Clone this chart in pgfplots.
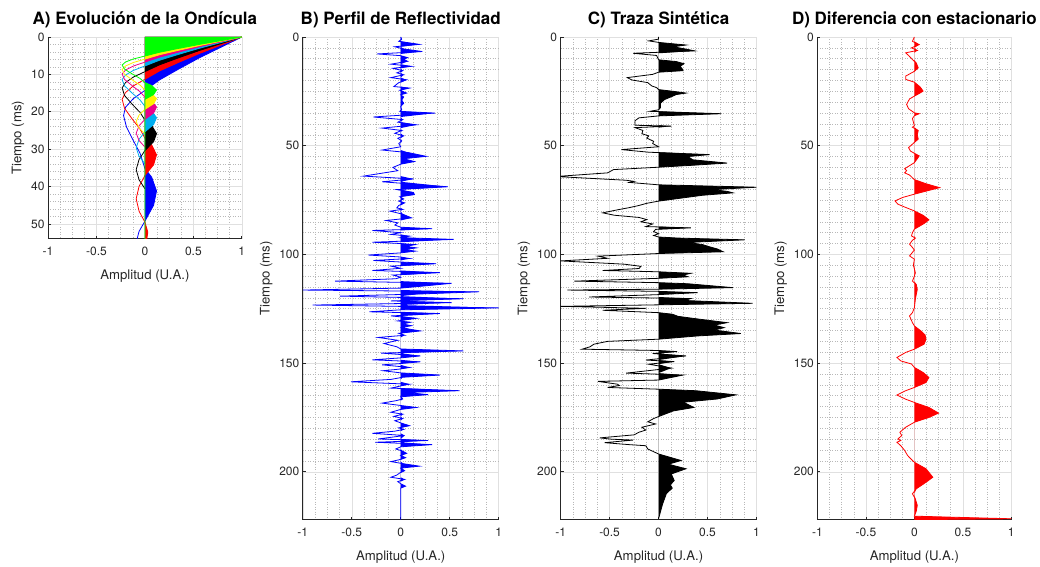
\documentclass[border=0pt]{standalone}
\usepackage{fontspec}
\setmainfont{TeX Gyre Heros}
\usepackage{pgfplots}
\usepackage{pgfplotstable}
\pgfplotsset{compat=1.18}
\definecolor{axgray}{RGB}{38,38,38}

\pgfplotstableread{
t a
0 0
1 0.01
2 -0.02
3.4 0.19
4.5 -0.06
5.5 0.03
6.7 0.22
7.8 -0.24
8.6 0.0
9.5 0.07
10.3 0.03
11.2 0.07
12.5 -0.10
13.5 0.11
14.4 -0.08
15.5 0.02
16.5 -0.04
17.4 0.03
18.7 -0.10
19.7 0.06
21.0 -0.02
22.8 -0.07
23.5 0.09
24.5 -0.01
25.8 0.06
26.6 0.0
27.6 0.03
29.0 0.01
30.5 0.03
32.0 0.0
33.5 0.01
34.2 -0.01
35.0 0.35
36.8 -0.28
38.0 0.02
39.2 -0.03
40.4 0.16
41.9 -0.19
43.0 0.01
44.3 -0.06
45.5 0.03
46.6 -0.03
47.8 0.01
49.0 -0.02
50.5 0.0
52.0 -0.19
53.2 0.08
54.9 0.26
56.0 0.03
57.3 0.14
58.5 0.0
60.0 -0.08
61.5 -0.03
64.0 -0.38
65.3 0.13
66.6 -0.19
68.9 0.48
70.2 -0.04
71.5 0.13
72.5 0.14
73.5 -0.01
74.5 0.03
75.5 -0.02
76.3 0.04
77.5 -0.02
78.6 -0.04
79.3 0.02
80.1 -0.11
81.5 0.02
83.2 0.11
84.4 -0.15
85.5 -0.03
86.5 -0.06
87.5 0.0
88.2 0.32
89.0 -0.29
90.0 0.0
90.8 -0.10
91.6 0.09
92.3 0.0
93.1 0.54
94.4 -0.29
95.0 0.0
95.5 0.15
96.3 0.05
97.0 0.16
97.8 0.04
98.5 0.15
99.3 0.0
100.3 -0.33
101.2 0.0
101.9 0.09
102.8 -0.28
103.5 0.0
104.3 0.36
105.4 -0.10
106.4 0.0
107.4 -0.29
108.4 0.40
109.5 -0.08
110.5 0.0
111.2 -0.05
112.3 -0.67
113.3 0.52
114.6 0.22
115.5 0.0
116.4 -1.0
117.2 0.80
118.2 0.20
119.2 -0.62
120.4 0.64
121.4 -0.10
122.2 0.52
123.3 -0.90
124.6 1.0
125.5 0.0
126.4 -0.32
127.2 0.40
128.3 -0.10
129.4 0.16
130.6 -0.03
131.2 0.10
132.0 0.02
132.8 0.11
133.6 0.01
134.4 0.09
135.2 0.20
136.3 -0.02
137.2 0.04
138.2 -0.23
139.5 -0.03
141.0 -0.17
142.5 -0.04
143.5 0.0
144.4 0.64
145.4 -0.20
146.7 0.20
147.6 0.0
148.5 -0.29
149.4 0.20
150.2 0.0
150.8 -0.19
152.0 0.09
152.8 -0.02
153.5 -0.18
154.5 0.0
155.5 0.40
156.5 0.02
157.5 -0.10
158.6 -0.51
159.7 0.09
160.5 0.0
161.5 -0.10
162.7 0.60
163.5 0.05
164.5 0.28
165.5 0.0
166.5 0.02
167.3 -0.05
168.4 -0.19
169.5 0.0
170.4 0.16
171.3 0.0
172.6 -0.10
173.5 0.02
174.5 -0.07
175.5 0.02
176.5 -0.06
177.5 0.0
178.8 0.09
179.8 -0.02
180.5 0.03
181.3 -0.06
182.3 -0.29
183.3 0.04
184.9 -0.23
185.6 0.28
186.4 -0.26
187.5 0.32
188.5 0.0
189.5 -0.05
190.5 0.02
191.5 0.06
192.5 0.0
193.5 0.05
194.5 -0.02
195.3 -0.10
196.3 0.03
197.4 0.19
198.3 0.0
199.5 0.04
200.5 -0.01
201.5 -0.04
202.5 -0.10
203.5 0.04
204.5 -0.03
205.5 0.0
206.6 0.05
207.5 0.0
222 0
}\dataB

\pgfplotstableread{
t a
0 0
1.0 0.0
1.8 -0.10
2.5 0.0
3.7 0.28
4.5 0.15
5.5 0.27
6.4 0.37
7.5 -0.26
8.5 -0.02
10.5 0.0
11.3 0.18
12.3 0.26
13.5 0.22
14.5 0.24
15.5 0.25
16.2 0.0
17.2 -0.06
18.7 -0.32
19.8 -0.27
21.0 -0.11
22.5 -0.07
23.3 -0.02
24.2 0.0
25.0 0.15
25.8 0.28
26.5 0.18
27.5 0.13
28.8 0.06
30.5 0.02
32.5 0.02
33.5 0.0
34.2 -0.09
35.3 0.64
36.3 0.0
37.2 -0.20
38.5 -0.24
40.6 -0.24
41.0 0.13
41.7 -0.24
43.0 -0.16
44.5 -0.17
45.5 -0.10
46.5 -0.12
48.0 -0.05
49.0 -0.06
50.5 0.0
51.8 -0.38
53.0 -0.10
54.1 0.52
55.0 0.30
56.5 0.35
58.0 0.70
59.0 0.35
59.9 0.0
61.0 -0.46
62.5 -0.52
64.0 -0.99
64.3 -1.0
65.9 -0.33
66.4 -0.25
66.9 -0.30
68.0 0.0
69.1 1.0
70.2 0.55
71.0 0.70
71.7 0.76
72.8 0.45
74.0 0.25
75.5 0.0
76.5 -0.12
77.5 -0.20
78.5 -0.30
79.5 -0.42
80.9 -0.57
82.0 -0.45
83.0 -0.20
84.0 -0.12
85.0 -0.18
86.0 -0.06
87.2 -0.13
87.8 0.33
88.5 -0.03
89.5 -0.05
90.5 0.0
91.3 -0.05
92.0 0.0
92.5 0.20
93.3 0.88
94.5 0.30
95.5 0.45
96.5 0.52
97.5 0.60
98.8 0.66
99.6 0.0
100.8 -0.62
101.8 -0.52
103.0 -1.0
104.5 -0.35
105.5 -0.18
106.5 -0.20
107.4 -0.57
108.0 0.0
108.7 0.33
109.5 0.25
110.3 0.30
111.0 0.0
112.3 -0.86
113.0 0.0
113.5 0.30
115.3 0.76
116.0 0.0
116.4 -0.93
117.0 0.0
117.6 0.40
118.5 0.0
119.6 -0.71
120.3 0.33
121.2 0.27
122.5 0.96
123.2 0.0
123.9 -1.0
124.8 -0.13
125.7 -0.57
126.8 0.0
127.5 0.14
128.5 0.20
129.7 0.40
131.4 0.70
132.5 0.57
133.7 0.67
134.8 0.57
136.4 0.84
137.5 0.40
139.0 0.0
140.0 -0.52
141.3 -0.66
142.5 -0.70
143.6 -0.78
144.2 0.0
144.7 0.19
145.6 -0.06
146.7 0.28
148.6 -0.13
149.3 0.16
150.5 -0.10
152.3 0.13
154.6 -0.33
155.5 0.25
157.8 0.0
158.4 -0.62
159.7 -0.42
160.3 -0.40
161.2 -0.52
162.0 0.0
162.7 0.38
164.6 0.79
166.5 0.60
168.0 0.25
169.0 0.30
170.4 0.36
172.0 0.15
174.6 0.0
175.5 -0.05
177.0 -0.11
178.0 -0.03
179.5 -0.17
180.8 -0.13
181.8 -0.20
183.0 -0.25
184.4 -0.60
185.0 -0.48
185.4 -0.26
186.6 -0.55
187.5 -0.30
188.0 -0.13
189.5 -0.11
191.8 0.0
194.8 0.23
196.5 0.10
198.6 0.28
201.0 0.13
204.0 0.16
206.0 0.12
207.5 0.14
210.0 0.08
215.0 0.04
221.6 0.0
}\dataC

\pgfplotstableread{
t a
0 0
2 -0.02
3.5 0.05
5.0 -0.03
6.2 0.03
7.3 -0.09
8.5 -0.06
10.4 -0.02
12.0 0.02
14.2 0.04
15.8 0.0
18.0 -0.09
19.5 -0.09
20.8 0.0
23.0 0.06
24.9 0.09
26.0 0.05
27.2 0.0
28.5 -0.05
31.0 -0.08
33.0 -0.06
34.9 0.0
35.3 0.05
36.2 0.0
37.5 -0.02
40.8 0.0
41.5 -0.02
43.0 0.04
45.0 0.03
47.0 0.04
48.5 0.0
50.9 -0.06
52.5 -0.04
53.5 0.0
54.7 0.05
56.0 0.03
57.8 0.0
60.6 -0.10
61.5 -0.08
62.5 -0.10
63.5 -0.05
65.6 0.0
67.5 0.12
69.3 0.26
70.8 0.13
72.3 0.0
73.8 -0.12
75.4 -0.20
76.9 -0.17
78.4 -0.09
80.0 0.0
82.0 0.09
84.1 0.15
85.8 0.10
88.4 0.0
90.0 -0.02
91.5 -0.03
92.5 0.01
93.5 -0.02
95.3 -0.05
96.8 -0.02
98.0 0.0
100.7 -0.05
102.2 0.0
105.0 -0.01
108.5 0.01
110.0 0.0
112.3 -0.02
113.8 0.02
116.1 0.03
118.3 0.02
120.7 0.01
124.5 0.0
126.8 -0.02
128.3 -0.05
131.4 -0.02
132.9 0.0
135.3 0.07
137.0 0.11
139.0 0.12
141.3 0.10
143.6 0.0
145.1 -0.09
147.4 -0.18
149.0 -0.14
150.4 -0.03
152.0 0.0
154.3 0.09
156.6 0.15
158.9 0.12
161.2 0.0
162.7 -0.09
164.7 -0.18
166.6 -0.09
168.1 0.0
170.4 0.15
173.0 0.25
175.0 0.15
177.2 0.0
179.5 -0.09
181.8 -0.15
183.3 -0.13
184.9 -0.17
185.6 -0.14
186.4 -0.18
188.0 -0.14
190.2 -0.10
192.5 -0.07
194.8 -0.02
195.6 0.0
198.6 0.12
202.5 0.19
204.8 0.12
207.8 0.02
210.1 -0.02
212.5 0.01
215.4 0.03
218.0 0.02
220.4 0.0
221.6 1.0
222 0
}\dataD

\pgfplotsset{
  panel/.style={
    scale only axis,
    y dir=reverse,
    xmin=-1, xmax=1,
    xtick={-1,-0.5,0,0.5,1},
    minor x tick num=3,
    grid=both,
    major grid style={line width=0.5pt, draw=black!12},
    minor grid style={line width=0.5pt, draw=black!28, dotted},
    axis x line*=bottom, axis y line*=left,
    axis line style={draw=axgray, line width=0.7pt, -},
    tick align=inside,
    major tick length=3pt, minor tick length=0pt,
    tick style={draw=axgray, line width=0.7pt},
    /pgf/number format/assume math mode=true,
    ticklabel style={font=\fontsize{12}{12}\selectfont, text=axgray},
    xticklabel style={yshift=-5pt},
    label style={font=\fontsize{13.2}{14}\selectfont, text=axgray},
    xlabel style={yshift=-7pt},
    title style={font=\fontsize{17}{17}\selectfont\bfseries, text=black},
    xlabel={Amplitud (U.A.)},
    ylabel={Tiempo (ms)},
    every axis plot/.append style={line width=0.8pt},
  },
  tall/.style={
    panel,
    ymin=0, ymax=222,
    ytick={0,50,100,150,200},
    minor y tick num=9,
    height=483pt,
  },
  posfill/.style={fill=#1, draw=none, x filter/.expression={max(x,0)}},
}

\begin{document}
\begin{tikzpicture}
\path (0pt,0pt) rectangle (1040pt,560pt);

% ---------------- A ----------------
\begin{axis}[panel, at={(145pt,422pt)}, anchor=center, width=194pt, height=202pt,
  ymin=0, ymax=54, ytick={0,10,20,30,40,50}, minor y tick num=4,
  title={A) Evolución de la Ondícula}]
% blue
\addplot[posfill=blue] coordinates {(0,0) (1,0) (0.78,2.8) (0.56,5.6) (0.34,8.7) (0.15,11.5) (0,14.3) (-0.12,16.5) (-0.2,18.8) (-0.22,21) (-0.19,24.1) (-0.12,27.7) (-0.05,31.1) (0,35.2) (0.07,37.5) (0.12,41.2) (0.09,45) (0,49.3) (-0.06,52) (-0.08,54)};
\addplot[blue] coordinates {(1,0) (0.78,2.8) (0.56,5.6) (0.34,8.7) (0.15,11.5) (0,14.3) (-0.12,16.5) (-0.2,18.8) (-0.22,21) (-0.19,24.1) (-0.12,27.7) (-0.05,31.1) (0,35.2) (0.07,37.5) (0.12,41.2) (0.09,45) (0,49.3) (-0.06,52) (-0.08,54)};
% red
\addplot[posfill=red] coordinates {(0,0) (1,0) (0.78,2.22) (0.56,4.44) (0.34,6.88) (0.15,9.1) (0,11.32) (-0.12,13.1) (-0.2,14.87) (-0.235,16.65) (-0.21,19.09) (-0.13,21.98) (-0.05,24.64) (0,27.08) (0.07,28.86) (0.12,31.52) (0.09,34.19) (0,37.07) (-0.06,39.96) (-0.09,43.29) (-0.06,46.62) (0,49.51) (0.03,52.2) (0.02,54) (0,54)};
\addplot[red] coordinates {(1,0) (0.78,2.22) (0.56,4.44) (0.34,6.88) (0.15,9.1) (0,11.32) (-0.12,13.1) (-0.2,14.87) (-0.235,16.65) (-0.21,19.09) (-0.13,21.98) (-0.05,24.64) (0,27.08) (0.07,28.86) (0.12,31.52) (0.09,34.19) (0,37.07) (-0.06,39.96) (-0.09,43.29) (-0.06,46.62) (0,49.51) (0.03,52.2) (0.02,54)};
% black
\addplot[posfill=black] coordinates {(0,0) (1,0) (0.78,1.82) (0.56,3.64) (0.34,5.64) (0.15,7.46) (0,9.28) (-0.12,10.74) (-0.2,12.19) (-0.235,13.65) (-0.21,15.65) (-0.13,18.02) (-0.05,20.2) (0,22.2) (0.07,23.66) (0.12,25.84) (0.09,28.03) (0,30.39) (-0.06,32.76) (-0.09,35.49) (-0.06,38.22) (0,40.59)};
\addplot[black] coordinates {(1,0) (0.78,1.82) (0.56,3.64) (0.34,5.64) (0.15,7.46) (0,9.28) (-0.12,10.74) (-0.2,12.19) (-0.235,13.65) (-0.21,15.65) (-0.13,18.02) (-0.05,20.2) (0,22.2) (0.07,23.66) (0.12,25.84) (0.09,28.03) (0,30.39) (-0.06,32.76) (-0.09,35.49) (-0.06,38.22) (0,40.59)};
% cyan
\addplot[posfill=cyan] coordinates {(0,0) (1,0) (0.78,1.52) (0.56,3.04) (0.34,4.71) (0.15,6.23) (0,7.75) (-0.12,8.97) (-0.2,10.18) (-0.235,11.4) (-0.21,13.07) (-0.13,15.05) (-0.05,16.87) (0,18.54) (0.07,19.76) (0.12,21.58) (0.09,23.41) (0,25.38) (-0.06,27.36) (-0.09,29.64) (-0.06,31.92) (0,33.9)};
\addplot[cyan] coordinates {(1,0) (0.78,1.52) (0.56,3.04) (0.34,4.71) (0.15,6.23) (0,7.75) (-0.12,8.97) (-0.2,10.18) (-0.235,11.4) (-0.21,13.07) (-0.13,15.05) (-0.05,16.87) (0,18.54) (0.07,19.76) (0.12,21.58) (0.09,23.41) (0,25.38) (-0.06,27.36) (-0.09,29.64) (-0.06,31.92) (0,33.9)};
% magenta
\addplot[posfill=magenta] coordinates {(0,0) (1,0) (0.78,1.32) (0.56,2.64) (0.34,4.09) (0.15,5.41) (0,6.73) (-0.12,7.79) (-0.2,8.84) (-0.235,9.9) (-0.21,11.35) (-0.13,13.07) (-0.05,14.65) (0,16.1) (0.07,17.16) (0.12,18.74) (0.09,20.33) (0,22.04) (-0.06,23.76) (-0.09,25.74) (-0.06,27.72) (0,29.44)};
\addplot[magenta] coordinates {(1,0) (0.78,1.32) (0.56,2.64) (0.34,4.09) (0.15,5.41) (0,6.73) (-0.12,7.79) (-0.2,8.84) (-0.235,9.9) (-0.21,11.35) (-0.13,13.07) (-0.05,14.65) (0,16.1) (0.07,17.16) (0.12,18.74) (0.09,20.33) (0,22.04) (-0.06,23.76) (-0.09,25.74) (-0.06,27.72) (0,29.44)};
% yellow
\addplot[posfill=yellow] coordinates {(0,0) (1,0) (0.78,1.16) (0.56,2.32) (0.34,3.6) (0.15,4.76) (0,5.92) (-0.12,6.84) (-0.2,7.77) (-0.235,8.7) (-0.21,9.98) (-0.13,11.48) (-0.05,12.88) (0,14.15) (0.07,15.08) (0.12,16.47) (0.09,17.86) (0,19.37) (-0.06,20.88) (-0.09,22.62) (-0.06,24.36) (0,25.87)};
\addplot[yellow] coordinates {(1,0) (0.78,1.16) (0.56,2.32) (0.34,3.6) (0.15,4.76) (0,5.92) (-0.12,6.84) (-0.2,7.77) (-0.235,8.7) (-0.21,9.98) (-0.13,11.48) (-0.05,12.88) (0,14.15) (0.07,15.08) (0.12,16.47) (0.09,17.86) (0,19.37) (-0.06,20.88) (-0.09,22.62) (-0.06,24.36) (0,25.87)};
% green
\addplot[posfill=green] coordinates {(0,0) (1,0) (0.78,1.0) (0.56,2.0) (0.34,3.1) (0.15,4.1) (0,5.1) (-0.12,5.9) (-0.2,6.7) (-0.235,7.5) (-0.21,8.6) (-0.13,9.9) (-0.05,11.1) (0,12.2) (0.07,13.0) (0.12,14.2) (0.09,15.4) (0,16.7) (0,54)};
\addplot[green] coordinates {(1,0) (0.78,1.0) (0.56,2.0) (0.34,3.1) (0.15,4.1) (0,5.1) (-0.12,5.9) (-0.2,6.7) (-0.235,7.5) (-0.21,8.6) (-0.13,9.9) (-0.05,11.1) (0,12.2) (0.07,13.0) (0.12,14.2) (0.09,15.4) (0,16.7) (0,54)};
\end{axis}

% ---------------- B ----------------
\begin{axis}[tall, at={(401pt,281.5pt)}, anchor=center, width=196pt,
  title={B) Perfil de Reflectividad}]
\addplot[posfill=blue] table[x=a, y=t] {\dataB};
\addplot[blue] table[x=a, y=t] {\dataB};
\end{axis}

% ---------------- C ----------------
\begin{axis}[tall, at={(659pt,281.5pt)}, anchor=center, width=196pt,
  title={C) Traza Sintética}]
\addplot[posfill=black] table[x=a, y=t] {\dataC};
\addplot[black] table[x=a, y=t] {\dataC};
\end{axis}

% ---------------- D ----------------
\begin{axis}[tall, at={(915pt,281.5pt)}, anchor=center, width=194pt,
  title={D) Diferencia con estacionario}]
\addplot[posfill=red] table[x=a, y=t] {\dataD};
\addplot[red] table[x=a, y=t] {\dataD};
\end{axis}
\end{tikzpicture}
\end{document}
